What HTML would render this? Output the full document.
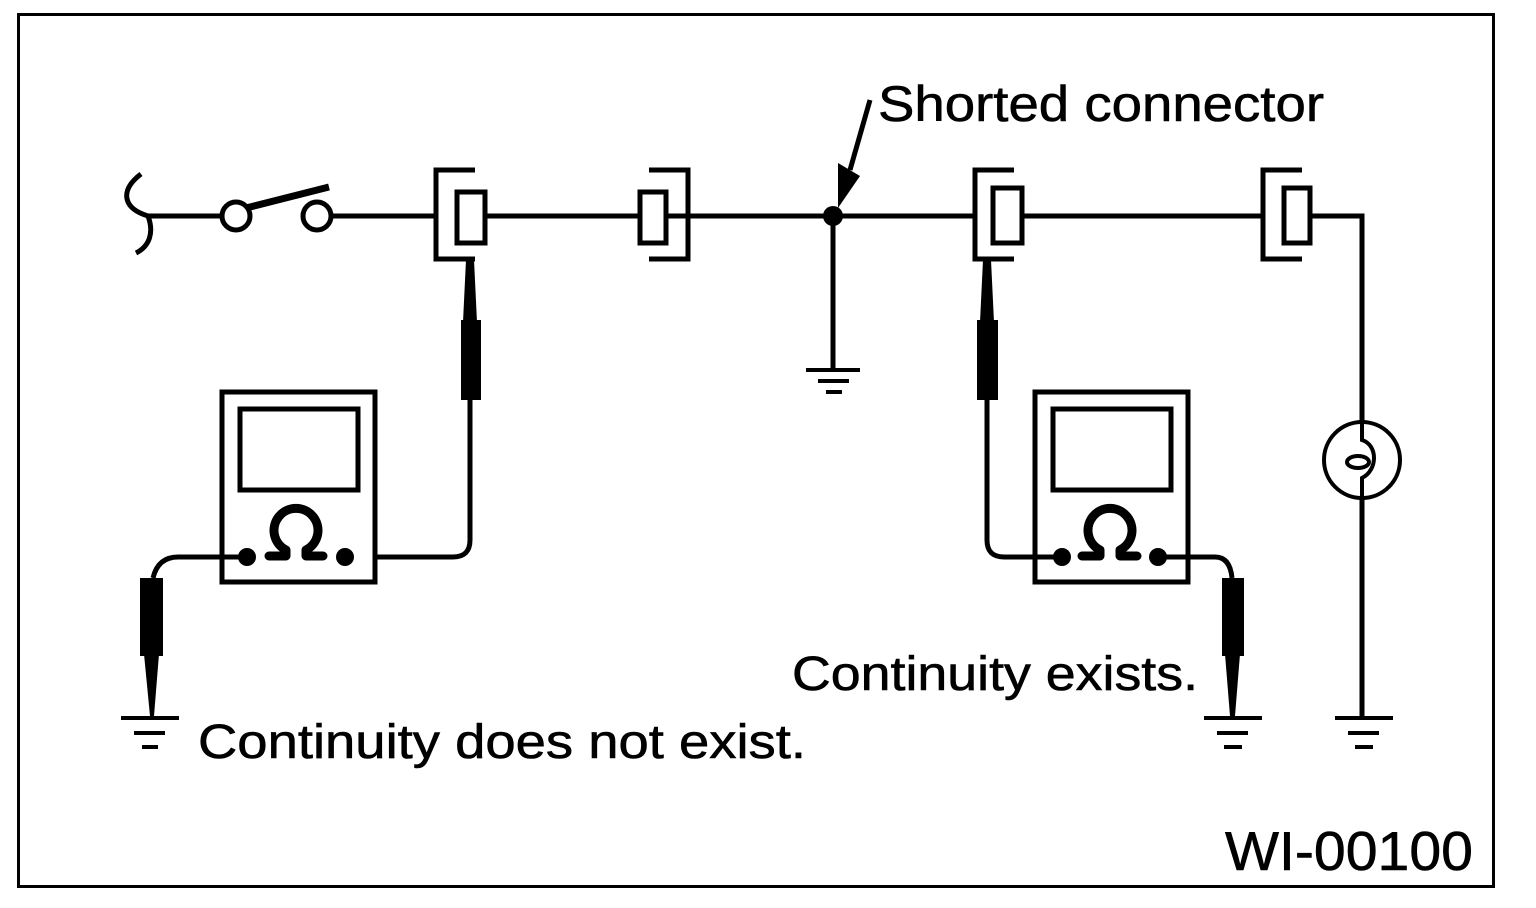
<!DOCTYPE html>
<html><head><meta charset="utf-8"><style>
html,body{margin:0;padding:0;background:#fff;}
svg{display:block;}
text{font-family:"Liberation Sans",sans-serif;fill:#000;stroke:#000;stroke-width:0.6;}
</style></head><body>
<svg width="1536" height="908" viewBox="0 0 1536 908" xmlns="http://www.w3.org/2000/svg">
<rect x="18.5" y="14.5" width="1475" height="872" fill="none" stroke="#000" stroke-width="3"/>
<g fill="none" stroke="#000" stroke-width="5">
  <path d="M141,174 C120,190 122,208 148,216 C154,232 150,246 136,253"/>
  <line x1="148" y1="216" x2="222" y2="216"/>
  <circle cx="236" cy="216" r="14"/>
  <circle cx="317" cy="216" r="14"/>
  <line x1="331" y1="216" x2="436" y2="216"/>
  <line x1="486" y1="216" x2="640" y2="216"/>
  <line x1="666" y1="216" x2="975" y2="216"/>
  <line x1="1022" y1="216" x2="1262" y2="216"/>
  <path d="M1310,216 H1362 V717"/>
  <path d="M475,170 H436 V259 H475"/>
  <rect x="457" y="192" width="28" height="51"/>
  <path d="M649,170 H688 V259 H649"/>
  <rect x="640" y="192" width="26" height="51"/>
  <path d="M1014,170 H975 V259 H1014"/>
  <rect x="993" y="188" width="29" height="55"/>
  <path d="M1302,170 H1263 V259 H1302"/>
  <rect x="1284" y="188" width="26" height="55"/>
  <line x1="833" y1="216" x2="833" y2="370"/>
  <path d="M470,400 V540 Q470,557 453,557 H375"/>
  <rect x="222" y="392" width="153" height="190"/>
  <rect x="240" y="409" width="118" height="81"/>
  <path d="M247,557 H178 Q158,557 153,578"/>
  <path d="M987,400 V540 Q987,557 1004,557 H1062"/>
  <rect x="1035" y="392" width="153" height="190"/>
  <rect x="1053" y="409" width="118" height="81"/>
  <path d="M1158,557 H1215 Q1230,557 1232,578"/>
</g>
<g fill="none" stroke="#000" stroke-width="4">
  <circle cx="1362" cy="460" r="38" fill="#fff"/>
  <path d="M1362,422 V440 C1378,445 1378,470 1362,478 V498" />
  <ellipse cx="1358" cy="462" rx="11" ry="6"/>
</g>
<path d="M246,208 L329,187" stroke="#000" stroke-width="7" fill="none"/>
<circle cx="833" cy="216" r="10" fill="#000"/>
<line x1="870" y1="100" x2="850" y2="170" stroke="#000" stroke-width="5"/>
<polygon points="838,208 838,163 860,176" fill="#000"/>
<g stroke="#000" stroke-width="4">
  <line x1="806" y1="370" x2="860" y2="370"/><line x1="818" y1="381" x2="849" y2="381"/><line x1="826" y1="392" x2="842" y2="392"/>
  <line x1="121" y1="718" x2="179" y2="718"/><line x1="134" y1="733" x2="165" y2="733"/><line x1="142" y1="747" x2="158" y2="747"/>
  <line x1="1204" y1="718" x2="1262" y2="718"/><line x1="1217" y1="733" x2="1248" y2="733"/><line x1="1224" y1="747" x2="1242" y2="747"/>
  <line x1="1335" y1="718" x2="1393" y2="718"/><line x1="1348" y1="733" x2="1379" y2="733"/><line x1="1355" y1="747" x2="1373" y2="747"/>
</g>
<g fill="#000">
  <polygon points="466,260 474,260 477,322 463,322"/>
  <rect x="461" y="320" width="20" height="80"/>
  <polygon points="983,260 991,260 994,322 980,322"/>
  <rect x="977" y="320" width="21" height="80"/>
  <rect x="140" y="578" width="23" height="78"/>
  <polygon points="144,654 159,654 154,716 150,716"/>
  <rect x="1222" y="578" width="22" height="78"/>
  <polygon points="1225,654 1240,654 1235,716 1230,716"/>
  <circle cx="247" cy="557" r="9"/><circle cx="345" cy="557" r="9"/>
  <circle cx="1062" cy="557" r="9"/><circle cx="1158" cy="557" r="9"/>
</g>
<g fill="none" stroke="#000" stroke-width="9" stroke-linecap="round" stroke-linejoin="round">
  <path d="M269,556 H286 V550 A22 22 0 1 1 306,550 V556 H323"/>
  <path d="M1082,556 H1100 V550 A22 22 0 1 1 1120,550 V556 H1137"/>
</g>
<text x="878" y="121" font-size="50" textLength="446" lengthAdjust="spacingAndGlyphs">Shorted connector</text>
<text x="792" y="690" font-size="48" textLength="406" lengthAdjust="spacingAndGlyphs">Continuity exists.</text>
<text x="198" y="758" font-size="48" textLength="608" lengthAdjust="spacingAndGlyphs">Continuity does not exist.</text>
<text x="1225" y="870" font-size="55" textLength="248" lengthAdjust="spacingAndGlyphs">WI-00100</text>
</svg>
</body></html>
